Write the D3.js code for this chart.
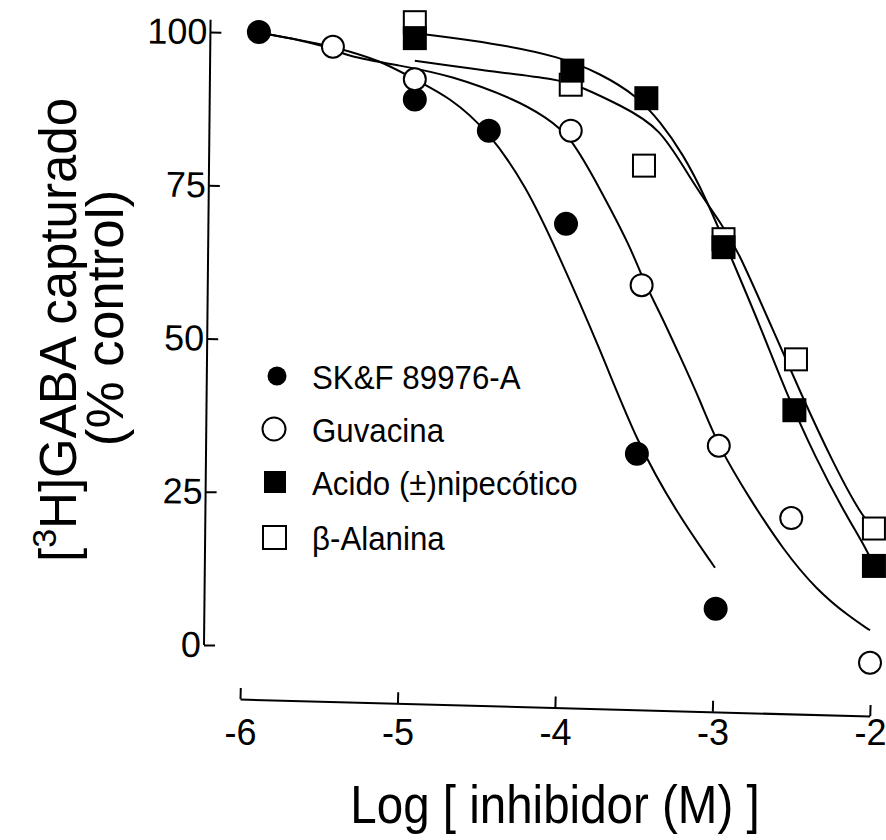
<!DOCTYPE html>
<html>
<head>
<meta charset="utf-8">
<title>GABA uptake inhibitors</title>
<script src="https://d3js.org/d3.v7.min.js"></script>
<style>
  body { margin: 0; background: #fff; }
  text { font-family: "Liberation Sans", Arial, Helvetica, sans-serif; fill: #000; }
</style>
</head>
<body>
<script>

// measured points: [log M, % control]
var skfPts = [[-5.88,100],[-4.89,89.0],[-4.42,83.9],[-3.93,68.7],[-3.48,31.2],[-2.98,5.9]];
var guvPts = [[-5.41,97.6],[-4.89,92.3],[-3.90,83.9],[-3.45,58.7],[-2.96,32.5],[-2.50,20.7],[-2.0,-2.9]];
var nipPts = [[-4.89,99.0],[-3.89,93.7],[-3.42,89.2],[-2.93,64.9],[-2.48,38.3],[-1.975,12.9]];
var alaPts = [[-4.89,101.6],[-3.90,91.4],[-3.435,78.2],[-2.93,66.2],[-2.47,46.6],[-1.975,19.0]];

// fitted curves as drawn in the figure
var skfLine = [[-5.86,99.8],[-5.62,98.7],[-5.42,97.7],[-5.11,95.4],[-4.895,92.3],[-4.67,89.4],
  [-4.42,83.8],[-4.18,74.7],[-3.99,64.4],[-3.71,48.1],[-3.48,33.0],[-3.225,21.5],[-2.984,12.6]];
var guvLine = [[-5.86,99.8],[-5.62,98.7],[-5.42,97.4],[-5.33,96.1],[-4.98,94.5],[-4.67,93.0],
  [-4.24,88.9],[-4.06,86.1],[-3.905,83.2],[-3.71,74.2],[-3.52,64.9],[-3.44,59.5],[-3.33,54.0],
  [-3.21,47.3],[-3.08,40.0],[-2.965,32.5],[-2.76,23.7],[-2.55,15.5],[-2.34,9.0],[-2.13,4.6],[-2.0,2.4]];
var nipLine = [[-4.89,99.8],[-4.39,98.2],[-3.97,96.0],[-3.71,93.2],[-3.48,89.6],[-3.33,85.3],
  [-3.19,80.2],[-3.05,73.4],[-2.87,62.5],[-2.70,52.2],[-2.54,41.6],[-2.34,30.2],[-2.17,22.0],
  [-2.013,15.2],[-1.975,12.9]];
var alaLine = [[-4.89,95.3],[-4.48,93.8],[-3.97,92.3],[-3.82,90.9],[-3.59,88.1],[-3.33,84.5],
  [-3.14,75.9],[-2.93,68.2],[-2.84,64.4],[-2.635,52.5],[-2.43,40.5],[-2.235,29.7],[-2.05,20.9],
  [-1.975,19.1]];

var xTicks = [-6,-5,-4,-3,-2];
var yTicks = [0,25,50,75,100];
var legendNames = ["SK&F 89976-A", "Guvacina", "Acido (\u00b1)nipec\u00f3tico", "\u03b2-Alanina"];

var width = 886, height = 840;

var svg = d3.select('body')
  .append('svg')
  .attr('width', width)
  .attr('height', height);

var x = d3.scaleLinear().domain([-6, -2]).range([240, 870]);
var y = d3.scaleLinear().domain([0, 100]).range([645, 32]);

// y axis (scan is slightly tilted)
var gy = svg.append('g')
  .attr('transform', 'translate(204,0) rotate(0.6,0,645)');
gy.call(d3.axisLeft(y).tickValues(yTicks).tickSize(-11).tickSizeOuter(0).tickPadding(3));
gy.select('.domain').remove();
gy.append('line')
  .attr('x1', 0).attr('x2', 0)
  .attr('y1', y(102)).attr('y2', y(0))
  .attr('stroke', '#000').attr('stroke-width', 2);
gy.selectAll('.tick line').attr('stroke', '#000').attr('stroke-width', 2);
gy.selectAll('.tick text')
  .attr('font-size', 36)
  .attr('font-family', '"Liberation Sans", Arial, sans-serif')
  .attr('fill', '#000');

// x axis: line and ticks tilted, labels level
var gx = svg.append('g')
  .attr('transform', 'translate(0,699) rotate(1.55,240,0)');
gx.call(d3.axisBottom(x).tickValues(xTicks).tickSize(-11).tickSizeOuter(0).tickFormat(''));
gx.select('.domain').attr('stroke', '#000').attr('stroke-width', 2);
gx.selectAll('.tick line').attr('stroke', '#000').attr('stroke-width', 2);

var gxl = svg.append('g').attr('transform', 'translate(0,711)');
gxl.call(d3.axisBottom(x).tickValues(xTicks).tickSize(0).tickPadding(8).tickFormat(function(d){ return String(d); }));
gxl.select('.domain').remove();
gxl.selectAll('.tick text')
  .attr('font-size', 36)
  .attr('font-family', '"Liberation Sans", Arial, sans-serif')
  .attr('fill', '#000');

// axis titles
svg.append('text')
  .attr('transform', 'translate(555,823) scale(0.88,1)')
  .attr('text-anchor', 'middle')
  .attr('font-size', 54)
  .text('Log [ inhibidor (M) ]');

var yt = svg.append('text')
  .attr('transform', 'translate(76,330) rotate(-90)')
  .attr('text-anchor', 'middle')
  .attr('font-size', 51);
yt.append('tspan').text('[');
yt.append('tspan').attr('font-size', 34).attr('dy', -20).text('3');
yt.append('tspan').attr('dy', 20).text('H]GABA capturado');

svg.append('text')
  .attr('transform', 'translate(123,318) rotate(-90) scale(1.04,1)')
  .attr('text-anchor', 'middle')
  .attr('font-size', 51)
  .text('(% control)');

// curves
var line = d3.line()
  .x(function(d){ return x(d[0]); })
  .y(function(d){ return y(d[1]); })
  .curve(d3.curveBasis);

[skfLine, guvLine, nipLine, alaLine].forEach(function(c){
  svg.append('path')
    .attr('d', line(c))
    .attr('fill', 'none')
    .attr('stroke', '#000')
    .attr('stroke-width', 2);
});

// markers
var sq = 22, r = 11;
function squares(data, fill){
  svg.append('g').selectAll('rect')
    .data(data)
    .enter()
    .append('rect')
    .attr('x', function(d){ return x(d[0]) - sq/2; })
    .attr('y', function(d){ return y(d[1]) - sq/2; })
    .attr('width', sq).attr('height', sq)
    .attr('fill', fill)
    .attr('stroke', '#000')
    .attr('stroke-width', 2);
}
function circles(data, fill){
  svg.append('g').selectAll('circle')
    .data(data)
    .enter()
    .append('circle')
    .attr('cx', function(d){ return x(d[0]); })
    .attr('cy', function(d){ return y(d[1]); })
    .attr('r', r)
    .attr('fill', fill)
    .attr('stroke', '#000')
    .attr('stroke-width', 2);
}
squares(alaPts, '#fff');
squares(nipPts, '#000');
circles(skfPts, '#000');
circles(guvPts, '#fff');

// legend
var legY = [376, 429, 482, 537];
var leg = svg.append('g');
leg.append('circle').attr('cx', 277).attr('cy', legY[0]).attr('r', 9.5).attr('fill', '#000');
leg.append('circle').attr('cx', 274).attr('cy', legY[1]).attr('r', 11.5)
  .attr('fill', '#fff').attr('stroke', '#000').attr('stroke-width', 2);
leg.append('rect').attr('x', 264).attr('y', legY[2] - 11).attr('width', 22).attr('height', 22)
  .attr('fill', '#000');
leg.append('rect').attr('x', 263).attr('y', legY[3] - 11).attr('width', 23).attr('height', 23)
  .attr('fill', '#fff').attr('stroke', '#000').attr('stroke-width', 2);

leg.selectAll('text')
  .data(legendNames)
  .enter()
  .append('text')
  .attr('transform', function(d, i){ return 'translate(312,' + (legY[i] + 13) + ') scale(0.92,1)'; })
  .attr('font-size', 34)
  .text(function(d){ return d; });

</script>
</body>
</html>
